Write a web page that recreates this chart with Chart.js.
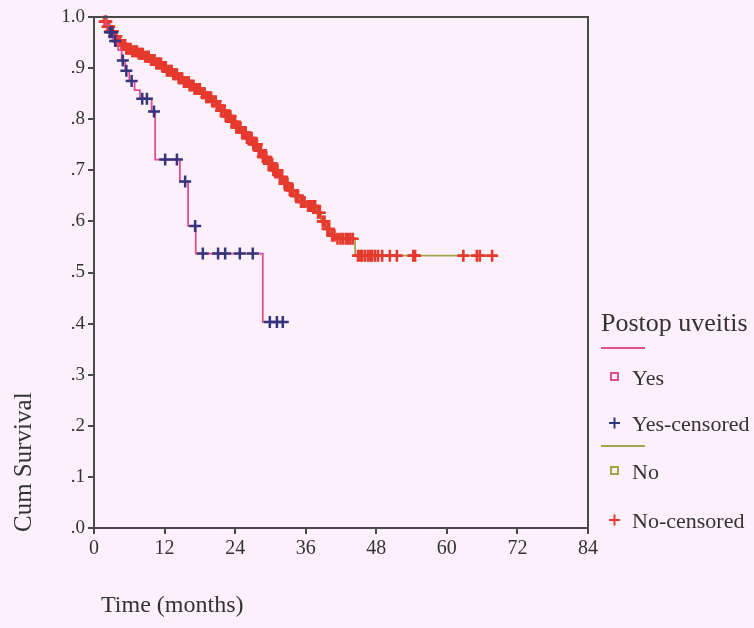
<!DOCTYPE html>
<html><head><meta charset="utf-8">
<script src="https://cdn.jsdelivr.net/npm/chart.js@4.4.1/dist/chart.umd.min.js"></script>
<style>html,body{margin:0;padding:0;background:#fcf0fb;}canvas{display:block}</style>
</head><body>
<canvas id="c" width="754" height="628"></canvas>
<script>
// ---- data ----
const xTicks = [0, 12, 24, 36, 48, 60, 72, 84];
const yTickLabels = ['.0', '.1', '.2', '.3', '.4', '.5', '.6', '.7', '.8', '.9', '1.0'];

const yesTimes = [0, 2.0, 2.6, 3.3, 4.1, 4.7, 5.3, 6.0, 6.9, 7.8, 9.8, 10.4, 14.6, 16.0, 17.3, 28.7];
const yesSurv  = [1.0, 0.985, 0.970, 0.953, 0.935, 0.915, 0.895, 0.875, 0.857, 0.840, 0.815, 0.721, 0.678, 0.591, 0.537, 0.403];
const yesEnd = 33.0;
const yesCensor = [2.7, 3.1, 3.6, 4.9, 5.5, 6.4, 8.2, 9.0, 10.2, 12.1, 14.1, 15.5, 17.2, 18.5, 21.1, 22.3, 24.8, 27.0, 29.9, 31.1, 32.1];

const noTimes = [0, 1.6, 2.2, 2.7, 3.3, 3.9, 4.6, 5.4, 6.3, 7.4, 8.6, 9.5, 10.6, 11.5, 12.4, 13.3, 14.4, 15.3, 16.2, 17.1, 18.2, 19.1, 20.0, 20.9, 21.6, 22.4, 23.3, 24.1, 25.0, 26.0, 26.9, 27.8, 28.7, 29.5, 30.4, 31.3, 32.2, 33.1, 34.0, 35.0, 36.2, 37.8, 38.6, 39.4, 40.2, 41.2, 44.4];
const noSurv  = [1.000, 0.991, 0.981, 0.972, 0.962, 0.953, 0.945, 0.938, 0.933, 0.928, 0.922, 0.916, 0.909, 0.902, 0.895, 0.888, 0.880, 0.873, 0.866, 0.859, 0.851, 0.843, 0.835, 0.826, 0.817, 0.806, 0.795, 0.784, 0.774, 0.763, 0.751, 0.739, 0.726, 0.713, 0.700, 0.687, 0.674, 0.661, 0.650, 0.638, 0.630, 0.617, 0.600, 0.585, 0.572, 0.566, 0.533];
const noEnd = 67.7;
const noCensor = [1.8, 2.0, 2.1, 2.3, 2.5, 2.6, 2.8, 3.0, 3.2, 3.4, 3.5, 3.8, 3.9, 4.0, 4.3, 4.4, 4.7, 4.9, 5.1, 5.3, 5.5, 5.7, 6.0, 6.2, 6.5, 6.8, 7.1, 7.3, 7.6, 7.9, 8.1, 8.3, 8.7, 9.0, 9.2, 9.3, 9.7, 9.9, 10.1, 10.3, 10.6, 10.8, 11.0, 11.2, 11.4, 11.7, 11.9, 12.2, 12.4, 12.7, 13.0, 13.2, 13.5, 13.7, 13.9, 14.1, 14.4, 14.6, 14.8, 15.0, 15.3, 15.4, 15.8, 16.1, 16.3, 16.5, 16.9, 17.1, 17.3, 17.6, 17.8, 18.0, 18.4, 18.6, 18.8, 19.1, 19.3, 19.5, 19.9, 20.1, 20.3, 20.7, 20.9, 21.1, 21.4, 21.6, 21.8, 22.2, 22.4, 22.6, 23.0, 23.2, 23.4, 23.6, 24.0, 24.2, 24.4, 24.7, 24.9, 25.2, 25.5, 25.8, 26.0, 26.2, 26.6, 26.8, 27.1, 27.3, 27.5, 27.7, 28.0, 28.2, 28.4, 28.7, 28.9, 29.1, 29.3, 29.7, 29.9, 30.0, 30.3, 30.5, 30.8, 31.0, 31.2, 31.6, 31.8, 32.0, 32.4, 32.6, 32.9, 33.3, 33.6, 33.8, 34.3, 34.5, 34.7, 35.2, 35.5, 35.8, 36.4, 36.7, 36.9, 37.3, 37.6, 38.1, 38.4, 38.9, 39.2, 39.7, 40.0, 40.5, 40.9, 41.4, 41.9, 42.3, 42.8, 43.2, 43.6, 44.0, 44.9, 45.3, 45.6, 46.1, 46.6, 47.0, 47.3, 47.8, 48.3, 49.0, 50.3, 51.5, 54.3, 54.6, 62.8, 65.1, 65.6, 67.7];

const legendTitle = 'Postop uveitis';
const legendLabels = ['Yes', 'Yes-censored', 'No', 'No-censored'];
const xTitle = 'Time (months)';
const yTitle = 'Cum Survival';

// ---- styles ----
const colYesLine = '#e0508c';
const colYesMark = '#34357e';
const colNoLine = '#a3a548';
const colNoMark = '#e63a2e';
const axisCol = '#4a4a4a';
const textCol = '#333333';
const serif = "'Liberation Serif', 'Times New Roman', serif";

function survAt(times, surv, t) {
  let s = surv[0];
  for (let i = 0; i < times.length; i++) if (times[i] <= t) s = surv[i];
  return s;
}
function stepData(times, surv, end) {
  const d = times.map((t, i) => ({x: t, y: surv[i]}));
  d.push({x: end, y: surv[surv.length - 1]});
  return d;
}
function censorData(times, surv, cens) {
  return cens.map(t => ({x: t, y: survAt(times, surv, t)}));
}

const framePlugin = {
  id: 'frame',
  beforeDraw(chart) {
    const ctx = chart.ctx;
    ctx.save();
    ctx.fillStyle = '#fcf0fb';
    ctx.fillRect(0, 0, chart.width, chart.height);
    ctx.restore();
  },
  afterDraw(chart) {
    const ctx = chart.ctx, a = chart.chartArea;
    ctx.save();
    ctx.strokeStyle = axisCol;
    ctx.lineWidth = 2;
    ctx.beginPath();
    ctx.moveTo(a.left, a.top);
    ctx.lineTo(a.right, a.top);
    ctx.lineTo(a.right, a.bottom);
    ctx.stroke();
    // axis titles
    ctx.fillStyle = textCol;
    ctx.font = '24px ' + serif;
    ctx.textBaseline = 'middle';
    ctx.textAlign = 'left';
    ctx.fillText(xTitle, 101, 606);
    ctx.font = '25px ' + serif;
    ctx.translate(24, 532);
    ctx.rotate(-Math.PI / 2);
    ctx.fillText(yTitle, 0, 0);
    ctx.restore();
    // legend
    ctx.save();
    ctx.fillStyle = textCol;
    ctx.textBaseline = 'alphabetic';
    ctx.textAlign = 'left';
    ctx.font = '26px ' + serif;
    ctx.fillText(legendTitle, 601, 331);
    ctx.font = '22px ' + serif;
    const rows = [
      {line: colYesLine, ly: 348},
      {sq: colYesLine, y: 377, t: legendLabels[0]},
      {plus: colYesMark, y: 423, t: legendLabels[1]},
      {line: colNoLine, ly: 446},
      {sq: colNoLine, y: 471, t: legendLabels[2]},
      {plus: colNoMark, y: 520, t: legendLabels[3]}
    ];
    rows.forEach(r => {
      if (r.line) {
        ctx.strokeStyle = r.line; ctx.lineWidth = 2;
        ctx.beginPath(); ctx.moveTo(601, r.ly); ctx.lineTo(645, r.ly); ctx.stroke();
        return;
      }
      if (r.sq) {
        ctx.strokeStyle = r.sq; ctx.lineWidth = 2;
        ctx.strokeRect(611, r.y - 4, 7, 7);
      }
      if (r.plus) {
        ctx.strokeStyle = r.plus; ctx.lineWidth = 2;
        ctx.beginPath();
        ctx.moveTo(609, r.y); ctx.lineTo(620, r.y);
        ctx.moveTo(614.5, r.y - 5.5); ctx.lineTo(614.5, r.y + 5.5);
        ctx.stroke();
      }
      ctx.fillText(r.t, 632, r.y + 8);
    });
    ctx.restore();
  }
};

new Chart(document.getElementById('c'), {
  type: 'line',
  data: {
    datasets: [
      {label: 'Yes-censored', type: 'scatter', data: censorData(yesTimes, yesSurv, yesCensor), order: 0,
        pointStyle: 'cross', pointRadius: 6, pointBorderWidth: 2.5, borderColor: colYesMark, backgroundColor: colYesMark, showLine: false, clip: false},
      {label: 'Yes', data: stepData(yesTimes, yesSurv, yesEnd), order: 1, stepped: 'before',
        borderColor: colYesLine, borderWidth: 1.8, pointRadius: 0, fill: false, clip: false},
      {label: 'No-censored', type: 'scatter', data: censorData(noTimes, noSurv, noCensor), order: 2,
        pointStyle: 'cross', pointRadius: 6, pointBorderWidth: 2.6, borderColor: colNoMark, backgroundColor: colNoMark, showLine: false, clip: false},
      {label: 'No', data: stepData(noTimes, noSurv, noEnd), order: 3, stepped: 'before',
        borderColor: colNoLine, borderWidth: 1.8, pointRadius: 0, fill: false, clip: false}
    ]
  },
  options: {
    responsive: false, animation: false, devicePixelRatio: 1,
    layout: {padding: {left: 0, right: 166, top: 17, bottom: 0}},
    plugins: {legend: {display: false}, tooltip: {enabled: false}},
    scales: {
      x: {
        type: 'linear', min: 0, max: 84,
        afterBuildTicks: s => { s.ticks = xTicks.map(v => ({value: v})); },
        ticks: {color: textCol, font: {family: serif, size: 20}, padding: 3, maxRotation: 0, autoSkip: false},
        grid: {drawOnChartArea: false, drawTicks: true, tickLength: 6, color: axisCol, lineWidth: 2},
        border: {display: true, color: axisCol, width: 2},
        afterFit: s => { s.height = 100; }
      },
      y: {
        type: 'linear', min: 0, max: 1,
        afterBuildTicks: s => { s.ticks = yTickLabels.map((l, i) => ({value: i / 10})); },
        ticks: {color: textCol, font: {family: serif, size: 19}, padding: 3, autoSkip: false,
          callback: (v, i) => yTickLabels[i]},
        grid: {drawOnChartArea: false, drawTicks: true, tickLength: 6, color: axisCol, lineWidth: 2},
        border: {display: true, color: axisCol, width: 2},
        afterFit: s => { s.width = 94; }
      }
    }
  },
  plugins: [framePlugin]
});
</script>
</body></html>
